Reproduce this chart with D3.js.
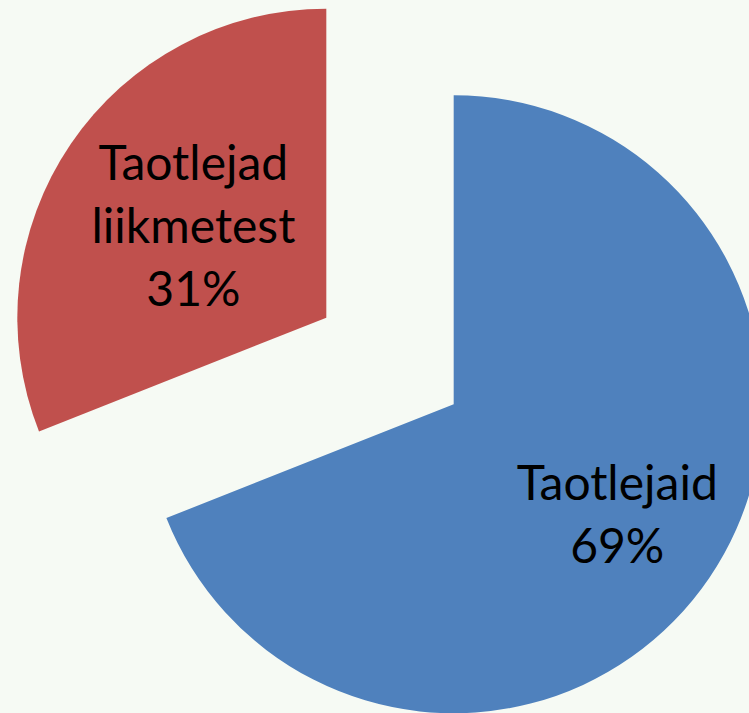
<!DOCTYPE html>
<html><head><meta charset="utf-8">
<script src="https://cdn.jsdelivr.net/npm/d3@7"></script>
<style>html,body{margin:0;padding:0;background:#f6faf4;overflow:hidden}</style>
</head><body>
<svg id="c" width="749" height="713"></svg>
<script>
const categories = ["Taotlejaid", "Taotlejad liikmetest"];
const labelLines = [["Taotlejaid", "69%"], ["Taotlejad", "liikmetest", "31%"]];
const values = [69, 31];
const colors = ["#4f81bd", "#c0504d"];

const svg = d3.select("#c");
svg.append("rect").attr("width", 749).attr("height", 713).attr("fill", "#f6faf4");
const cx = 390, cy = 361, r = 309, explode = 77;
const pie = d3.pie().sort(null).value(d => d)(values);
const arc = d3.arc().innerRadius(0).outerRadius(r);
const labelFactor = [0.64, 0.52];
const fs = 48, lh = 63;

pie.forEach((p, i) => {
  const mid = (p.startAngle + p.endAngle) / 2;
  const ox = Math.sin(mid) * explode, oy = -Math.cos(mid) * explode;
  const g = svg.append("g").attr("transform", `translate(${cx + ox},${cy + oy})`);
  g.append("path").attr("d", arc(p)).attr("fill", colors[i]);
  const lr = r * labelFactor[i];
  const lx = Math.sin(mid) * lr, ly = -Math.cos(mid) * lr;
  const lines = labelLines[i];
  const t = g.append("text").attr("text-anchor", "middle")
    .attr("font-family", "Lato, 'Open Sans', sans-serif").attr("font-size", fs).attr("fill", "#000");
  lines.forEach((s, j) => {
    t.append("tspan").attr("x", lx)
     .attr("y", ly + (j - (lines.length - 1) / 2) * lh + 16).text(s);
  });
});
</script>
</body></html>
